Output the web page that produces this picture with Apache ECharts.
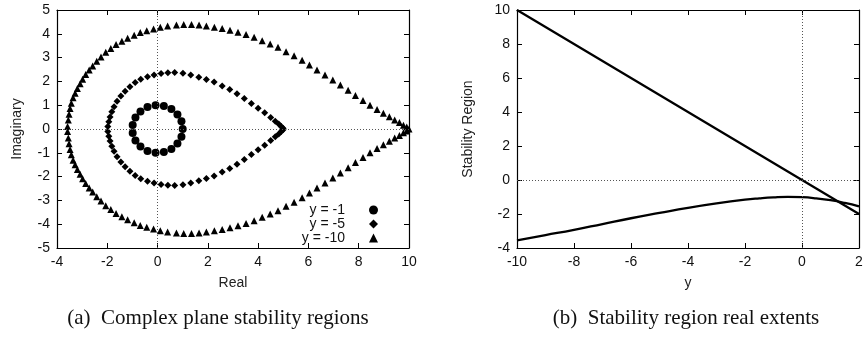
<!DOCTYPE html>
<html>
<head>
<meta charset="utf-8">
<script src="https://cdn.jsdelivr.net/npm/echarts@6/dist/echarts.min.js"></script>
<style>
  html, body { margin: 0; padding: 0; background: #fff; }
  #chart { width: 867px; height: 340px; }
</style>
</head>
<body>
<div id="chart"></div>
<script>
// (a) points on the stability boundary, [real, imaginary]
var circlePts = [
    [1.00, 0.00], [0.95, 0.33], [0.79, 0.61], [0.55, 0.84], [0.25, 0.97],
    [-0.08, 1.00], [-0.40, 0.92], [-0.68, 0.74], [-0.88, 0.48], [-0.99, 0.17],
    [-0.99, -0.17], [-0.88, -0.48], [-0.68, -0.74], [-0.40, -0.92], [-0.08, -1.00],
    [0.25, -0.97], [0.55, -0.84], [0.79, -0.61], [0.95, -0.33]
];
var diamondPts = [
    [-1.98, 0.10], [-1.94, 0.30], [-1.89, 0.50], [-1.82, 0.72], [-1.73, 0.94],
    [-1.61, 1.17], [-1.46, 1.39], [-1.29, 1.59], [-1.10, 1.78], [-0.89, 1.95],
    [-0.67, 2.09], [-0.40, 2.20], [-0.14, 2.27], [0.14, 2.33], [0.41, 2.36],
    [0.68, 2.37], [1.01, 2.34], [1.32, 2.27], [1.64, 2.17], [1.94, 2.08],
    [2.25, 1.97], [2.57, 1.81], [2.87, 1.66], [3.16, 1.48], [3.45, 1.28],
    [3.73, 1.07], [4.00, 0.87], [4.26, 0.68], [4.50, 0.48], [4.68, 0.33],
    [4.82, 0.21], [4.92, 0.11], [4.98, 0.04], [5.00, 0.00],
    [-1.98, -0.10], [-1.94, -0.30], [-1.89, -0.50], [-1.82, -0.72], [-1.73, -0.94],
    [-1.61, -1.17], [-1.46, -1.39], [-1.29, -1.59], [-1.10, -1.78], [-0.89, -1.95],
    [-0.67, -2.09], [-0.40, -2.20], [-0.14, -2.27], [0.14, -2.33], [0.41, -2.36],
    [0.68, -2.37], [1.01, -2.34], [1.32, -2.27], [1.64, -2.17], [1.94, -2.08],
    [2.25, -1.97], [2.57, -1.81], [2.87, -1.66], [3.16, -1.48], [3.45, -1.28],
    [3.73, -1.07], [4.00, -0.87], [4.26, -0.68], [4.50, -0.48], [4.68, -0.33],
    [4.82, -0.21], [4.92, -0.11], [4.98, -0.04]
];
var trianglePts = [
    [-3.58, 0.11], [-3.55, 0.38], [-3.52, 0.62], [-3.48, 0.86], [-3.43, 1.08],
    [-3.36, 1.31], [-3.28, 1.50], [-3.19, 1.70], [-3.08, 1.90], [-2.98, 2.09],
    [-2.86, 2.29], [-2.72, 2.48], [-2.58, 2.65], [-2.42, 2.85], [-2.25, 3.03],
    [-2.06, 3.22], [-1.86, 3.38], [-1.65, 3.55], [-1.42, 3.69], [-1.19, 3.81],
    [-0.93, 3.94], [-0.69, 4.05], [-0.43, 4.13], [-0.16, 4.20], [0.11, 4.27],
    [0.40, 4.33], [0.75, 4.37], [1.04, 4.39], [1.35, 4.39], [1.65, 4.37],
    [1.94, 4.33], [2.26, 4.27], [2.57, 4.22], [2.88, 4.15], [3.20, 4.06],
    [3.52, 3.97], [3.84, 3.85], [4.16, 3.71], [4.48, 3.57], [4.79, 3.43],
    [5.11, 3.25], [5.43, 3.08], [5.75, 2.89], [6.04, 2.69], [6.34, 2.48],
    [6.66, 2.27], [6.97, 2.06], [7.27, 1.85], [7.58, 1.63], [7.87, 1.41],
    [8.17, 1.20], [8.45, 1.00], [8.73, 0.82], [8.98, 0.66], [9.22, 0.51],
    [9.43, 0.38], [9.62, 0.27], [9.78, 0.16], [9.91, 0.08], [10.00, 0.00],
    [-3.58, -0.11], [-3.55, -0.38], [-3.52, -0.62], [-3.48, -0.86], [-3.43, -1.08],
    [-3.36, -1.31], [-3.28, -1.50], [-3.19, -1.70], [-3.08, -1.90], [-2.98, -2.09],
    [-2.86, -2.29], [-2.72, -2.48], [-2.58, -2.65], [-2.42, -2.85], [-2.25, -3.03],
    [-2.06, -3.22], [-1.86, -3.38], [-1.65, -3.55], [-1.42, -3.69], [-1.19, -3.81],
    [-0.93, -3.94], [-0.69, -4.05], [-0.43, -4.13], [-0.16, -4.20], [0.11, -4.27],
    [0.40, -4.33], [0.75, -4.37], [1.04, -4.39], [1.35, -4.39], [1.65, -4.37],
    [1.94, -4.33], [2.26, -4.27], [2.57, -4.22], [2.88, -4.15], [3.20, -4.06],
    [3.52, -3.97], [3.84, -3.85], [4.16, -3.71], [4.48, -3.57], [4.79, -3.43],
    [5.11, -3.25], [5.43, -3.08], [5.75, -2.89], [6.04, -2.69], [6.34, -2.48],
    [6.66, -2.27], [6.97, -2.06], [7.27, -1.85], [7.58, -1.63], [7.87, -1.41],
    [8.17, -1.20], [8.45, -1.00], [8.73, -0.82], [8.98, -0.66], [9.22, -0.51],
    [9.43, -0.38], [9.62, -0.27], [9.78, -0.16], [9.91, -0.08]
];
var legendNames = ['y = -1', 'y = -5', 'y = -10'];

// (b) real extents against y
var yValues     = [-10, -9, -8, -7, -6, -5, -4, -3, -2, -1.5, -1, -0.5, 0, 0.5, 1, 1.5, 2];
var rightExtent = [10, 9, 8, 7, 6, 5, 4, 3, 2, 1.5, 1, 0.5, 0, -0.5, -1, -1.5, -2];
var leftExtent  = [-3.55, -3.24, -2.93, -2.59, -2.25, -1.94, -1.64, -1.38, -1.16, -1.08,
                   -1.02, -0.99, -1.01, -1.08, -1.19, -1.35, -1.55];

var captions = ['(a)  Complex plane stability regions', '(b)  Stability region real extents'];

var FONT = 'Liberation Sans, Arial, sans-serif';
var SERIF = 'Liberation Serif, Times New Roman, serif';

function zip(xs, ys) {
    var out = [];
    for (var i = 0; i < xs.length; i++) out.push([xs[i], ys[i]]);
    return out;
}

// frame axis: black border with inward ticks, gnuplot style
function frameAxis(extra) {
    var ax = {
        type: 'value',
        axisLine: { show: true, onZero: false, lineStyle: { color: '#000', width: 1.2 } },
        axisTick: { show: true, inside: true, length: 5, lineStyle: { color: '#000', width: 1 } },
        splitLine: { show: false },
        axisLabel: { show: true, color: '#111', fontFamily: FONT, fontSize: 14, margin: 7 },
        nameTextStyle: { color: '#222', fontFamily: FONT, fontSize: 14 },
        nameLocation: 'middle'
    };
    for (var k in extra) ax[k] = extra[k];
    return ax;
}
function mirror(extra) {
    var ax = frameAxis(extra);
    ax.axisLabel = { show: false };
    return ax;
}

var zeroLines = {
    silent: true,
    symbol: ['none', 'none'],
    label: { show: false },
    lineStyle: { type: [1, 2], color: '#555', width: 1 },
    data: [{ xAxis: 0 }, { yAxis: 0 }]
};

var myChart = echarts.init(document.getElementById('chart'));
var option = {
    backgroundColor: '#fff',
    animation: false,
    grid: [
        { left: 57, right: 458, top: 10, bottom: 92 },
        { left: 517, right: 8, top: 10, bottom: 92 }
    ],
    xAxis: [
        frameAxis({ gridIndex: 0, min: -4, max: 10, interval: 2, position: 'bottom', name: 'Real', nameGap: 28 }),
        mirror({ gridIndex: 0, min: -4, max: 10, interval: 2, position: 'top' }),
        frameAxis({ gridIndex: 1, min: -10, max: 2, interval: 2, position: 'bottom', name: 'y', nameGap: 28 }),
        mirror({ gridIndex: 1, min: -10, max: 2, interval: 2, position: 'top' })
    ],
    yAxis: [
        frameAxis({ gridIndex: 0, min: -5, max: 5, interval: 1, position: 'left', name: 'Imaginary', nameGap: 33 }),
        mirror({ gridIndex: 0, min: -5, max: 5, interval: 1, position: 'right' }),
        frameAxis({ gridIndex: 1, min: -4, max: 10, interval: 2, position: 'left', name: 'Stability Region', nameGap: 42 }),
        mirror({ gridIndex: 1, min: -4, max: 10, interval: 2, position: 'right' })
    ],
    legend: {
        data: legendNames,
        orient: 'vertical',
        left: 280,
        top: 198,
        align: 'right',
        itemWidth: 9,
        itemHeight: 9,
        itemGap: 0,
        textStyle: {
            color: '#111', fontFamily: FONT, fontSize: 14, lineHeight: 14,
            width: 60, align: 'right', padding: [0, 19, 0, 0]
        }
    },
    series: [
        {
            name: legendNames[0], type: 'scatter', xAxisIndex: 0, yAxisIndex: 0,
            symbol: 'circle', symbolSize: 8, itemStyle: { color: '#000', opacity: 1 },
            data: circlePts, markLine: zeroLines
        },
        {
            name: legendNames[1], type: 'scatter', xAxisIndex: 0, yAxisIndex: 0,
            symbol: 'diamond', symbolSize: 7, itemStyle: { color: '#000', opacity: 1 },
            data: diamondPts
        },
        {
            name: legendNames[2], type: 'scatter', xAxisIndex: 0, yAxisIndex: 0,
            symbol: 'triangle', symbolSize: 7, itemStyle: { color: '#000', opacity: 1 },
            data: trianglePts
        },
        {
            name: 'right', type: 'line', xAxisIndex: 2, yAxisIndex: 2,
            showSymbol: false, lineStyle: { color: '#000', width: 2.3 },
            data: zip(yValues, rightExtent), markLine: zeroLines
        },
        {
            name: 'left', type: 'line', xAxisIndex: 2, yAxisIndex: 2, smooth: true,
            showSymbol: false, lineStyle: { color: '#000', width: 2.3 },
            data: zip(yValues, leftExtent)
        }
    ],
    graphic: [
        {
            type: 'text', x: 218, y: 318,
            style: { text: captions[0], align: 'center', verticalAlign: 'middle',
                     fontFamily: SERIF, fontSize: 21, fill: '#111' }
        },
        {
            type: 'text', x: 686, y: 318,
            style: { text: captions[1], align: 'center', verticalAlign: 'middle',
                     fontFamily: SERIF, fontSize: 21, fill: '#111' }
        }
    ]
};
myChart.setOption(option);
</script>
</body>
</html>
